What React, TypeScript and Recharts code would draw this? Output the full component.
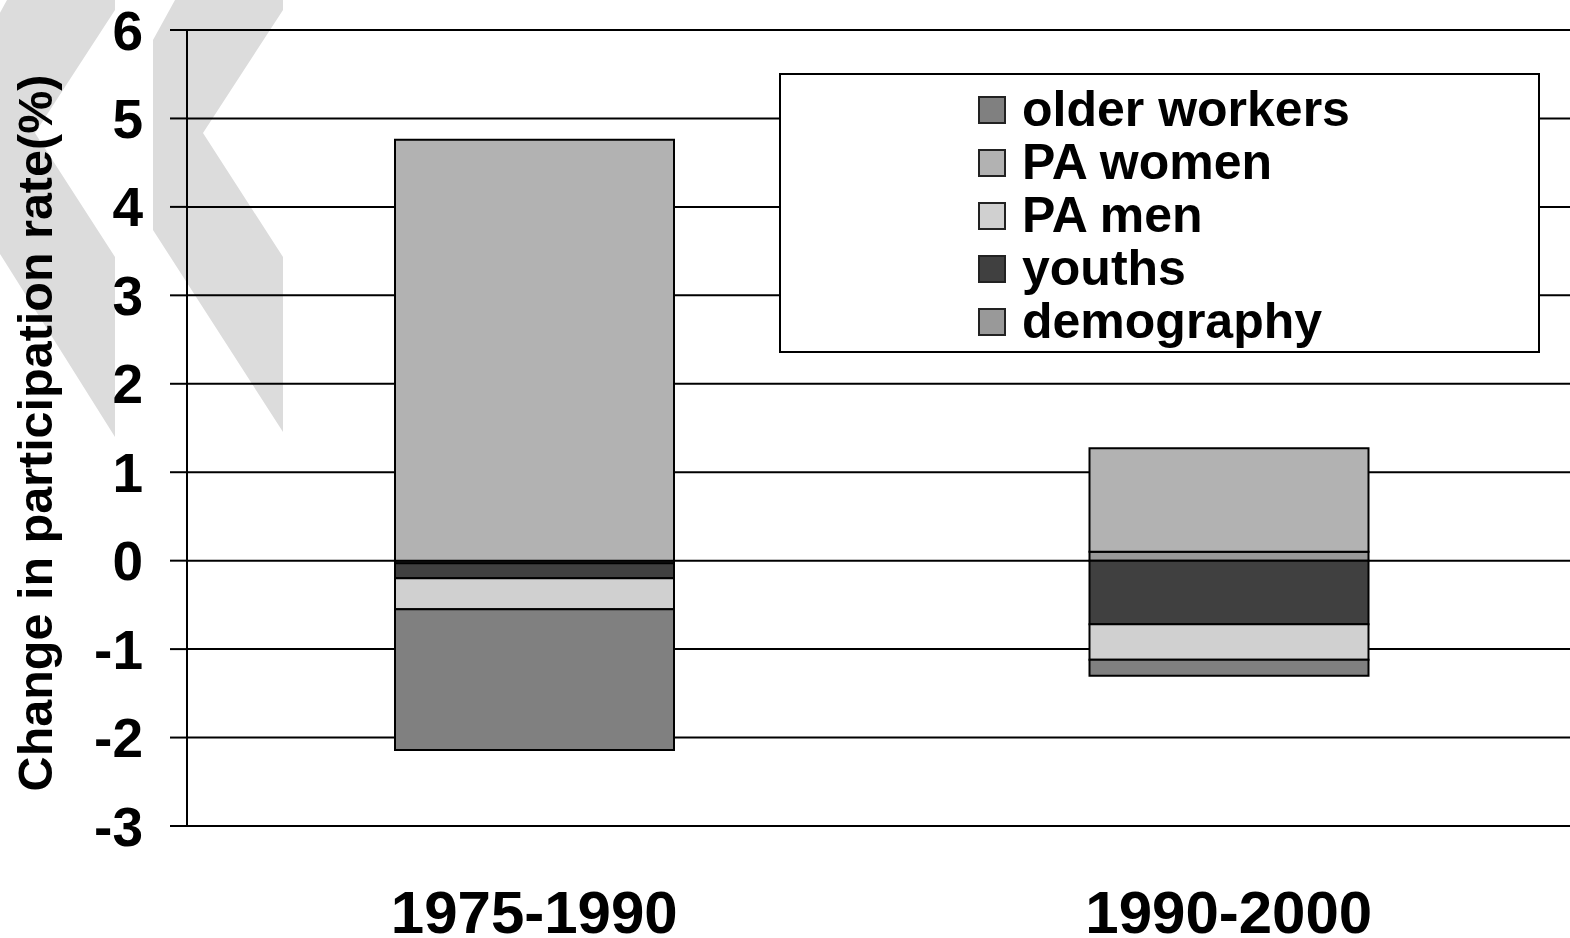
import {
  Bar,
  BarChart,
  CartesianGrid,
  XAxis,
  YAxis,
} from "recharts";

const periods = ["1975-1990", "1990-2000"];
const demography = [-0.03, 0.1];
const youths = [-0.17, -0.72];
const paMen = [-0.35, -0.4];
const paWomen = [4.76, 1.17];
const olderWorkers = [-1.59, -0.18];
const yTicks = [-3, -2, -1, 0, 1, 2, 3, 4, 5, 6];

const series = [
  { key: "demography", name: "demography", color: "#999999", values: demography },
  { key: "youths", name: "youths", color: "#404040", values: youths },
  { key: "paMen", name: "PA men", color: "#d0d0d0", values: paMen },
  { key: "paWomen", name: "PA women", color: "#b2b2b2", values: paWomen },
  { key: "older", name: "older workers", color: "#808080", values: olderWorkers },
];

const data = periods.map((p, i) => {
  const row: Record<string, string | number> = { period: p };
  series.forEach((s) => (row[s.key] = s.values[i]));
  return row;
});

const FONT = "'Liberation Sans', Arial, sans-serif";

// legend order is the stack order flipped
function LegendBox() {
  const items = [...series].reverse();
  return (
    <div
      style={{
        position: "absolute",
        left: 779,
        top: 73,
        boxSizing: "border-box",
        width: 761,
        height: 280,
        border: "2px solid #000",
        background: "#fff",
        paddingTop: 8,
        fontFamily: FONT,
      }}
    >
      {items.map((s) => (
        <div
          key={s.key}
          style={{ display: "flex", alignItems: "center", height: 53, paddingLeft: 197 }}
        >
          <span
            style={{
              boxSizing: "border-box",
              width: 28,
              height: 28,
              background: s.color,
              border: "2px solid #222",
              marginRight: 16,
            }}
          />
          <span style={{ fontSize: 50, fontWeight: 700, color: "#000", lineHeight: "53px" }}>
            {s.name}
          </span>
        </div>
      ))}
    </div>
  );
}

function Watermark() {
  return (
    <svg width={300} height={460} style={{ position: "absolute", left: 0, top: 0 }}>
      <polygon
        points="-15,40 7,0 115,0 115,10 35,133 115,257 115,437 -15,230"
        fill="#dcdcdc"
      />
      <polygon
        points="153,40 175,0 283,0 283,10 203,133 283,257 283,432 153,230"
        fill="#dcdcdc"
      />
    </svg>
  );
}

export default function App() {
  return (
    <div
      style={{
        position: "absolute",
        left: 0,
        top: 0,
        width: 1570,
        height: 938,
        overflow: "hidden",
        background: "#fff",
      }}
    >
      <Watermark />
      <div style={{ position: "absolute", left: 0, top: 0 }}>
        <BarChart
          width={1570}
          height={938}
          data={data}
          stackOffset="sign"
          barSize={279}
          margin={{ top: 30, right: -6, bottom: 0, left: 0 }}
        >
          <CartesianGrid vertical={false} stroke="#000" strokeWidth={2} />
          <XAxis
            dataKey="period"
            height={112}
            axisLine={{ stroke: "#000", strokeWidth: 2 }}
            tickLine={false}
            tickMargin={58}
            tick={{ fill: "#000", fontSize: 60, fontWeight: 700, fontFamily: FONT }}
          />
          <YAxis
            type="number"
            domain={[-3, 6]}
            ticks={yTicks}
            interval={0}
            width={187}
            axisLine={{ stroke: "#000", strokeWidth: 2 }}
            tickLine={{ stroke: "#000", strokeWidth: 2 }}
            tickSize={17}
            tickMargin={27}
            tick={{ fill: "#000", fontSize: 55, fontWeight: 700, fontFamily: FONT }}
            label={{
              content: ({ viewBox }: any) => {
                const cy = viewBox.y + viewBox.height / 2 + 5;
                return (
                  <text
                    x={52}
                    y={cy}
                    transform={`rotate(-90 52 ${cy})`}
                    textAnchor="middle"
                    fontSize={48.5}
                    fontWeight={700}
                    fontFamily={FONT}
                    fill="#000"
                  >
                    Change in participation rate(%)
                  </text>
                );
              },
            }}
          />
          {series.map((s) => (
            <Bar
              key={s.key}
              dataKey={s.key}
              name={s.name}
              stackId="a"
              fill={s.color}
              stroke="#000"
              strokeWidth={2}
              isAnimationActive={false}
            />
          ))}
        </BarChart>
      </div>
      <LegendBox />
    </div>
  );
}
